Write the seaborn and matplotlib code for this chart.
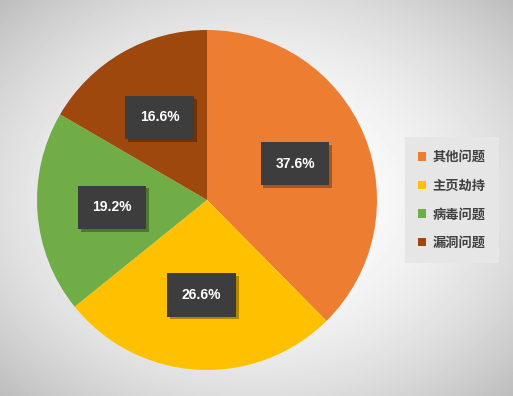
import matplotlib
matplotlib.use("Agg")
import matplotlib.pyplot as plt
import matplotlib.patheffects as pe
import seaborn as sns
import numpy as np

# data
categories = ["其他问题", "主页劫持", "病毒问题", "漏洞问题"]
shares = [37.6, 26.6, 19.2, 16.6]
colors = sns.color_palette(["#ED7D31", "#FFC000", "#70AD47", "#9E480E"])

sns.set_style("white")
plt.rcParams["font.family"] = ["Noto Sans CJK SC", "DejaVu Sans"]

fig = plt.figure(figsize=(5.13, 3.96), dpi=100)

# radial grey gradient background
bg = fig.add_axes([0, 0, 1, 1])
yy, xx = np.mgrid[-1:1:396j, -1:1:513j]
rr = np.sqrt(xx ** 2 + yy ** 2) / np.sqrt(2)
bg.imshow(1 - 0.26 * rr ** 2, cmap="gray", vmin=0, vmax=1, aspect="auto",
          extent=[0, 1, 0, 1])
bg.set_axis_off()

ax = fig.add_axes([0.0721, 0.0657, 0.6628, 0.8586])
wedges, texts, autotexts = ax.pie(
    shares, colors=colors, startangle=90, counterclock=False,
    autopct="%.1f%%", pctdistance=0.56,
    wedgeprops=dict(linewidth=0),
)
ax.set_xlim(-1, 1)
ax.set_ylim(-1, 1)
ax.set_aspect("equal")

for t in autotexts:
    t.set_color("white")
    t.set_fontsize(10)
    t.set_fontweight("bold")
    t.set_fontfamily(["Liberation Sans"])
    t.set_bbox(dict(boxstyle="square,pad=1.05", facecolor="#3d3d3d", edgecolor="none"))
    t.get_bbox_patch().set_path_effects(
        [pe.withSimplePatchShadow(offset=(2, -2), shadow_rgbFace="black", alpha=0.3)])

leg = fig.legend(wedges, categories, loc="center",
                 bbox_to_anchor=(452 / 513, 1 - 200 / 396),
                 frameon=True, fancybox=False, fontsize=9.5,
                 handlelength=0.6, handleheight=0.6, handletextpad=0.5,
                 labelspacing=1.1, borderpad=1.0, borderaxespad=0)
leg.get_frame().set_facecolor("#e6e6e6")
leg.get_frame().set_edgecolor("none")
leg.get_frame().set_alpha(1)
for t in leg.get_texts():
    t.set_color("#404040")
    t.set_fontweight("bold")

fig.savefig("out.png", dpi=100)
